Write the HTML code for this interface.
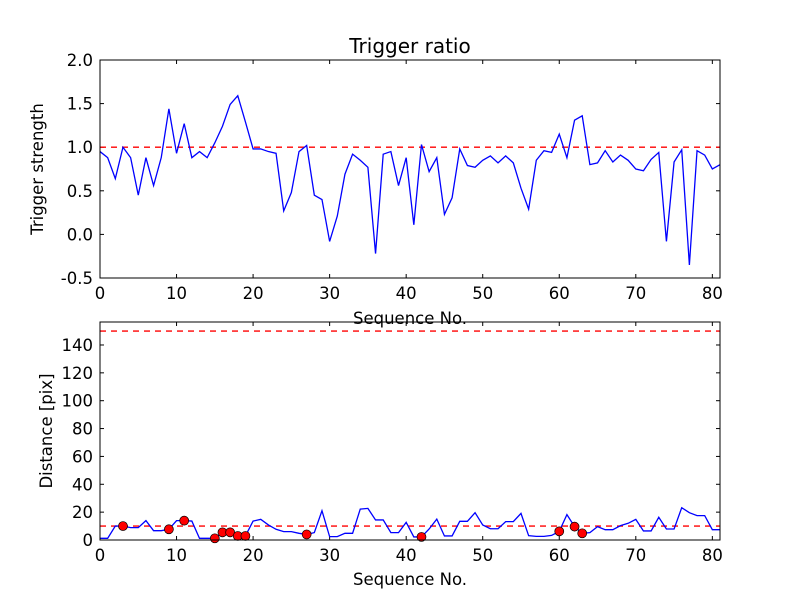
<!DOCTYPE html>
<html><head><meta charset="utf-8"><style>body{margin:0;background:#fff}svg{display:block;font-family:"DejaVu Sans","Liberation Sans",sans-serif}</style></head>
<body>
<svg id="c" width="800" height="600"></svg>
<script>
const seqTop=[0.95,0.88,0.64,1.0,0.88,0.45,0.88,0.56,0.88,1.44,0.93,1.27,0.88,0.95,0.88,1.05,1.24,1.49,1.59,1.29,0.98,0.98,0.95,0.93,0.27,0.48,0.95,1.02,0.45,0.40,-0.08,0.21,0.69,0.92,0.85,0.77,-0.22,0.92,0.95,0.56,0.88,0.11,1.03,0.72,0.88,0.23,0.42,0.98,0.79,0.77,0.85,0.90,0.82,0.90,0.82,0.53,0.29,0.85,0.96,0.94,1.15,0.88,1.31,1.36,0.80,0.82,0.96,0.83,0.91,0.85,0.75,0.73,0.86,0.94,-0.08,0.83,0.97,-0.35,0.96,0.91,0.75,0.80];
const distVals=[1.2,1.2,10,10,8.9,8.9,13.9,6.7,6.7,7.7,13.9,13.9,13.6,1.2,1.2,1.2,5.5,5.5,2.9,2.9,13.6,14.8,10.8,7.7,6,6,4.8,4,5.3,21,2.4,2.4,4.8,4.8,22.2,22.7,14.4,14.4,5.3,5.3,12.7,2.2,2.2,7.9,15,2.9,2.9,13.4,13.4,19.6,10.8,8.1,8.1,13.2,13.2,19.1,3.1,2.6,2.6,3.3,6.2,18.2,9.6,4.8,5.3,9.6,7.4,7.4,10.3,12,14.8,6.5,6.5,16.3,7.9,7.9,23.2,19.6,17.5,17.5,7.4,7.4];
const dotIdx=[3,9,11,15,16,17,18,19,27,42,60,62,63];
const topThreshold=1.0;
const botThresholds=[10,150];
const xTicks=[0,10,20,30,40,50,60,70,80];
const topYTicks=[-0.5,0,0.5,1.0,1.5,2.0];
const botYTicks=[0,20,40,60,80,100,120,140];

const NS="http://www.w3.org/2000/svg";
const svg=document.getElementById('c');
function el(t,a,p){const e=document.createElementNS(NS,t);for(const k in a)e.setAttribute(k,a[k]);(p||svg).appendChild(e);return e;}
const L=100,R=720,XMAX=81,FS=16.5;
const sx=v=>L+(R-L)*v/XMAX;
function axes(top,bot,ymin,ymax,yt,fmt,name){
  const sy=v=>bot-(bot-top)*(v-ymin)/(ymax-ymin);
  const g=el('g',{});
  
  
  xTicks.forEach(t=>{const x=sx(t);
    el('line',{x1:x,x2:x,y1:bot,y2:bot-4,stroke:'#000'},g);
    el('line',{x1:x,x2:x,y1:top,y2:top+4,stroke:'#000'},g);
    const tx=el('text',{x:x,y:bot+21,'text-anchor':'middle','font-size':FS},g);tx.textContent=t;
    
    });
  yt.forEach(t=>{const y=sy(t);
    el('line',{x1:L,x2:L+4,y1:y,y2:y,stroke:'#000'},g);
    el('line',{x1:R,x2:R-4,y1:y,y2:y,stroke:'#000'},g);
    const tx=el('text',{x:L-7,y:y+6,'text-anchor':'end','font-size':FS},g);tx.textContent=fmt(t);
    
    });
  return {g,sy};
}
const A=axes(60,278,-0.5,2.0,topYTicks,t=>t.toFixed(1),'top-axes');
let l=el('line',{x1:L,x2:R,y1:A.sy(topThreshold),y2:A.sy(topThreshold),stroke:'#f00','stroke-width':1.3,'stroke-dasharray':'6,5'},A.g);


let p=el('polyline',{points:seqTop.map((v,i)=>sx(i)+','+A.sy(v)).join(' '),fill:'none',stroke:'#00f','stroke-width':1.3},A.g);


el('rect',{x:L,y:60,width:R-L,height:218,fill:'none',stroke:'#000'},A.g);
const B=axes(322,540,0,156.5,botYTicks,t=>t,'bottom-axes');
botThresholds.forEach(t=>{const ln=el('line',{x1:L,x2:R,y1:B.sy(t),y2:B.sy(t),stroke:'#f00','stroke-width':1.3,'stroke-dasharray':'6,5'},B.g);
  
  });
p=el('polyline',{points:distVals.map((v,i)=>sx(i)+','+B.sy(v)).join(' '),fill:'none',stroke:'#00f','stroke-width':1.3},B.g);


dotIdx.forEach(i=>{const c=el('circle',{cx:sx(i),cy:B.sy(distVals[i]),r:4.5,fill:'#f00',stroke:'#000','stroke-width':0.7},B.g);
  
  });
el('rect',{x:L,y:322,width:R-L,height:218,fill:'none',stroke:'#000'},B.g);
function txt(s,a,name){const t=el('text',a);t.textContent=s;
  
  }
txt('Trigger ratio',{x:410,y:53,'text-anchor':'middle','font-size':20},'chart-title');
txt('Sequence No.',{x:410,y:324,'text-anchor':'middle','font-size':FS},'top-x-axis-title');
txt('Sequence No.',{x:410,y:585,'text-anchor':'middle','font-size':FS},'bottom-x-axis-title');
txt('Trigger strength',{x:43,y:169,'text-anchor':'middle','font-size':FS,transform:'rotate(-90 43 169)'},'top-y-axis-title');
txt('Distance [pix]',{x:52,y:431,'text-anchor':'middle','font-size':FS,transform:'rotate(-90 52 431)'},'bottom-y-axis-title');
</script>
</body></html>
